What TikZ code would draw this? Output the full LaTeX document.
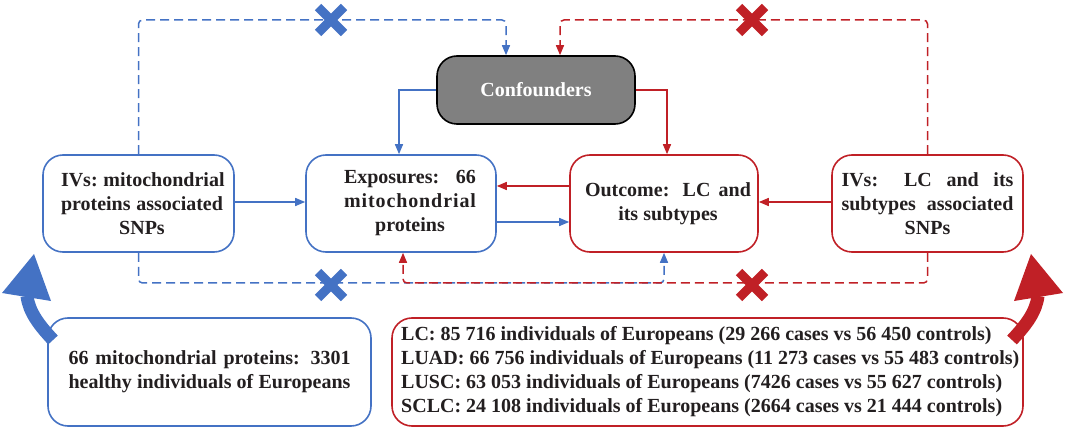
\documentclass[tikz,border=0pt]{standalone}
\usepackage{fontspec}
\setmainfont{Liberation Serif}
\usetikzlibrary{arrows.meta}
\definecolor{bl}{RGB}{68,114,196}
\definecolor{rd}{RGB}{192,32,38}
\definecolor{cg}{RGB}{128,128,128}
\definecolor{tx}{RGB}{35,31,32}
\begin{document}
\begin{tikzpicture}[x=1pt,y=-1pt,
  txt/.style={font=\fontsize{20}{24}\selectfont\bfseries, text=tx},
  bbox/.style={draw, line width=1.6pt, rounded corners=20pt, inner sep=0pt, txt, fill=white},
  conn/.style={line width=1.5pt, -{Triangle[length=10pt,width=8pt]}},
  dconn/.style={conn, dash pattern=on 9pt off 5pt, rounded corners=4pt},
  xmark/.style={line width=9pt},
  bigarrow/.style={line width=13pt}]
\useasboundingbox (0,0) rectangle (1065,430);

% boxes
\node[bbox, draw=bl, minimum width=191pt, minimum height=97pt] (liv) at (138.5,203.5)
  {\hspace*{7pt}\parbox{162pt}{\makebox[162pt][s]{IVs: mitochondrial}\\\makebox[162pt][s]{proteins associated}\\\makebox[162pt]{SNPs}}};
\node[bbox, draw=bl, minimum width=190pt, minimum height=97pt] (exp) at (401,203.5)
  {\hspace*{18pt}\parbox{132pt}{\makebox[132pt][s]{Exposures: 66}\\\makebox[132pt][s]{m\hfil i\hfil t\hfil o\hfil c\hfil h\hfil o\hfil n\hfil d\hfil r\hfil i\hfil a\hfil l}\\\makebox[132pt]{proteins}}};
\node[bbox, draw=rd, minimum width=188pt, minimum height=97pt] (out) at (664,203.5)
  {\hspace*{8pt}\parbox{166pt}{\makebox[166pt][s]{Outcome: LC and}\\\makebox[166pt]{its subtypes}}};
\node[bbox, draw=rd, minimum width=191pt, minimum height=97pt] (riv) at (927.5,203.5)
  {\parbox{172pt}{\makebox[172pt][s]{IVs: LC and its}\\\makebox[172pt][s]{subtypes associated}\\\makebox[172pt]{SNPs}}};
\node[draw=black, line width=1.6pt, rounded corners=20pt, fill=cg, inner sep=0pt,
  minimum width=198pt, minimum height=68pt, font=\fontsize{20}{24}\selectfont\bfseries, text=white] (conf) at (536,90) {Confounders};
\node[bbox, draw=bl, minimum width=323pt, minimum height=108pt] (bl) at (209.5,372)
  {\parbox{282pt}{\makebox[282pt][s]{66 mitochondrial proteins: 3301}\\\makebox[282pt][s]{healthy individuals of Europeans}}};
\node[bbox, draw=rd, minimum width=631pt, minimum height=108pt] (br) at (707.5,372) {};
\node[txt, anchor=west, align=left, inner sep=0pt] (brt) at (401,372)
  {LC: 85 716 individuals of Europeans (29 266 cases vs 56 450 controls)\\
   LUAD: 66 756 individuals of Europeans (11 273 cases vs 55 483 controls)\\
   LUSC: 63 053 individuals of Europeans (7426 cases vs 55 627 controls)\\
   SCLC: 24 108 individuals of Europeans (2664 cases vs 21 444 controls)};

\coordinate (topy) at (0,20);
\coordinate (boty) at (0,283);

% solid connectors
\draw[conn, bl] (conf.west) -| ([xshift=-2pt]exp.north);
\draw[conn, rd] (conf.east) -| ([xshift=3pt]out.north);
\draw[conn, bl] ([yshift=1.5pt]liv.east) -- ([yshift=1.5pt]exp.west);
\draw[conn, rd] ([yshift=1.5pt]riv.west) -- ([yshift=1.5pt]out.east);
\draw[conn, rd] ([yshift=17.5pt]out.west) -- ([yshift=17.5pt]exp.east);
\draw[conn, bl] ([yshift=-18.5pt]exp.east) -- ([yshift=-18.5pt]out.west);

% dashed connectors
\draw[dconn, bl] (liv.north) -- (liv.north |- topy) -- ([xshift=-30pt]conf.north |- topy) -- ([xshift=-30pt]conf.north);
\draw[dconn, rd] (riv.north) -- (riv.north |- topy) -- ([xshift=24pt]conf.north |- topy) -- ([xshift=24pt]conf.north);
\draw[dconn, bl] (liv.south) -- (liv.south |- boty) -- (out.south |- boty) -- (out.south);
\draw[dconn, rd] (riv.south) -- (riv.south |- boty) -- ([xshift=2pt]exp.south |- boty) -- ([xshift=2pt]exp.south);

% crosses
\draw[xmark, bl] (318,7) -- (344,33) (318,33) -- (344,7);
\draw[xmark, rd] (739,7) -- (765,33) (739,33) -- (765,7);
\draw[xmark, bl] (318,272) -- (344,298) (318,298) -- (344,272);
\draw[xmark, rd] (739,272) -- (765,298) (739,298) -- (765,272);

% big curved arrows
\fill[bl] (34,254) -- (2,293) -- (51,301) -- cycle;
\draw[bigarrow, bl] (53,340) .. controls (39,325) and (29,312) .. (27,296);
\fill[rd] (1031,254) -- (1063,293) -- (1014,301) -- cycle;
\draw[bigarrow, rd] (1012,340) .. controls (1026,325) and (1036,312) .. (1038,296);
\end{tikzpicture}
\end{document}
